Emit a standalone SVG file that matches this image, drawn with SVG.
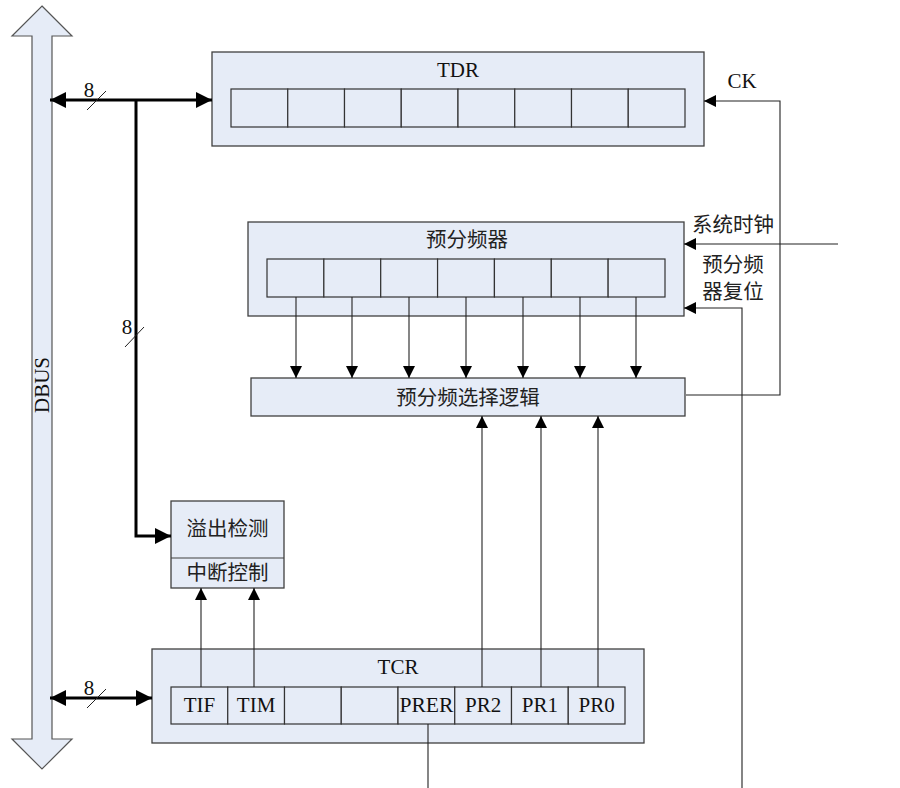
<svg xmlns="http://www.w3.org/2000/svg" width="900" height="788" viewBox="0 0 900 788">
<defs>
<style>
.box{fill:#e6ecf7;stroke:#404040;stroke-width:1.3}
.cell{fill:#e6ecf7;stroke:#333;stroke-width:1.2}
.t{font-family:"Liberation Serif","Noto Sans CJK SC",serif;font-size:21px;fill:#111;text-anchor:middle}
.c{font-family:"Liberation Serif","Noto Sans CJK SC",serif;font-size:20.5px;fill:#222;text-anchor:middle}
.thin{stroke:#222;stroke-width:1.1;fill:none}
.bus{stroke:#000;stroke-width:3;fill:none}
</style>
<marker id="a" viewBox="0 0 12 12" refX="12" refY="6" markerWidth="12" markerHeight="12" markerUnits="userSpaceOnUse" orient="auto-start-reverse"><path d="M0,0L12,6L0,12Z" fill="#000"/></marker>
<marker id="b" viewBox="0 0 16 16" refX="16" refY="8" markerWidth="16" markerHeight="16" markerUnits="userSpaceOnUse" orient="auto-start-reverse"><path d="M0,0L16,8L0,16Z" fill="#000"/></marker>
</defs>
<rect width="900" height="788" fill="#fff"/>

<g id="dbus">
<path d="M42,6L72,36L52,36L52,739L72,739L42,769L12,739L32,739L32,36L12,36Z" fill="#e6ecf7" stroke="#555" stroke-width="1.2"/>
<text class="t" transform="translate(49,385) rotate(-90)">DBUS</text>
</g>

<g id="tdr">
<rect class="box" x="212" y="52" width="492" height="94"/>
<text class="t" x="458" y="77">TDR</text>
<g class="cell">
<rect x="231" y="89" width="56.75" height="38"/>
<rect x="287.75" y="89" width="56.75" height="38"/>
<rect x="344.5" y="89" width="56.75" height="38"/>
<rect x="401.25" y="89" width="56.75" height="38"/>
<rect x="458" y="89" width="56.75" height="38"/>
<rect x="514.75" y="89" width="56.75" height="38"/>
<rect x="571.5" y="89" width="56.75" height="38"/>
<rect x="628.25" y="89" width="56.75" height="38"/>
</g>
</g>

<g id="prescaler">
<rect class="box" x="248" y="222" width="436" height="94"/>
<text class="c" x="467" y="247">预分频器</text>
<g class="cell">
<rect x="267" y="259" width="56.86" height="38"/>
<rect x="323.86" y="259" width="56.86" height="38"/>
<rect x="380.71" y="259" width="56.86" height="38"/>
<rect x="437.57" y="259" width="56.86" height="38"/>
<rect x="494.43" y="259" width="56.86" height="38"/>
<rect x="551.29" y="259" width="56.86" height="38"/>
<rect x="608.14" y="259" width="56.86" height="38"/>
</g>
</g>

<g id="select">
<rect class="box" x="251" y="378" width="434" height="38"/>
<text class="c" x="468" y="405">预分频选择逻辑</text>
</g>

<g id="overflow">
<rect class="box" x="171" y="501" width="113" height="87"/>
<line x1="171" y1="558" x2="284" y2="558" stroke="#404040" stroke-width="1.2"/>
<text class="c" x="227.5" y="536">溢出检测</text>
<text class="c" x="227.5" y="580">中断控制</text>
</g>

<g id="tcr">
<rect class="box" x="152" y="649" width="492" height="94"/>
<text class="t" x="398" y="674">TCR</text>
<g class="cell">
<rect x="171" y="687" width="56.75" height="37"/>
<rect x="227.75" y="687" width="56.75" height="37"/>
<rect x="284.5" y="687" width="56.75" height="37"/>
<rect x="341.25" y="687" width="56.75" height="37"/>
<rect x="398" y="687" width="56.75" height="37"/>
<rect x="454.75" y="687" width="56.75" height="37"/>
<rect x="511.5" y="687" width="56.75" height="37"/>
<rect x="568.25" y="687" width="56.75" height="37"/>
</g>
<text class="t" x="199.4" y="712">TIF</text>
<text class="t" x="256.1" y="712">TIM</text>
<text class="t" x="426.4" y="712" textLength="54" lengthAdjust="spacingAndGlyphs">PRER</text>
<text class="t" x="483.1" y="712">PR2</text>
<text class="t" x="539.9" y="712">PR1</text>
<text class="t" x="596.6" y="712">PR0</text>
</g>

<g id="labels">
<text class="t" x="742" y="88">CK</text>
<text class="c" x="733" y="232">系统时钟</text>
<text class="c" x="733" y="272">预分频</text>
<text class="c" x="733" y="299">器复位</text>
<text class="t" x="89" y="97">8</text>
<text class="t" x="127" y="334">8</text>
<text class="t" x="89" y="695">8</text>
</g>

<g id="connectors">
<line class="bus" x1="50" y1="100" x2="212" y2="100" marker-start="url(#b)" marker-end="url(#b)"/>
<polyline class="bus" points="136,100 136,536 171,536" marker-end="url(#b)"/>
<line class="bus" x1="50" y1="698" x2="152" y2="698" marker-start="url(#b)" marker-end="url(#b)"/>
<line x1="87" y1="110" x2="106" y2="91" stroke="#222" stroke-width="1"/>
<line x1="125" y1="347" x2="144" y2="327" stroke="#222" stroke-width="1"/>
<line x1="87" y1="708" x2="106" y2="689" stroke="#222" stroke-width="1"/>

<polyline class="thin" points="686,395 780,395 780,101 704,101" marker-end="url(#a)"/>
<line class="thin" x1="838" y1="244" x2="684" y2="244" marker-end="url(#a)"/>
<polyline class="thin" points="742,788 742,308 684,308" marker-end="url(#a)"/>

<line class="thin" x1="296" y1="297" x2="296" y2="378" marker-end="url(#a)"/>
<line class="thin" x1="352" y1="297" x2="352" y2="378" marker-end="url(#a)"/>
<line class="thin" x1="409" y1="297" x2="409" y2="378" marker-end="url(#a)"/>
<line class="thin" x1="466" y1="297" x2="466" y2="378" marker-end="url(#a)"/>
<line class="thin" x1="523" y1="297" x2="523" y2="378" marker-end="url(#a)"/>
<line class="thin" x1="580" y1="297" x2="580" y2="378" marker-end="url(#a)"/>
<line class="thin" x1="636" y1="297" x2="636" y2="378" marker-end="url(#a)"/>

<line class="thin" x1="482" y1="687" x2="482" y2="416" marker-end="url(#a)"/>
<line class="thin" x1="541" y1="687" x2="541" y2="416" marker-end="url(#a)"/>
<line class="thin" x1="598" y1="687" x2="598" y2="416" marker-end="url(#a)"/>

<line class="thin" x1="201" y1="687" x2="201" y2="588" marker-end="url(#a)"/>
<line class="thin" x1="254" y1="687" x2="254" y2="588" marker-end="url(#a)"/>

<line class="thin" x1="428" y1="724" x2="428" y2="788"/>
</g>
</svg>
